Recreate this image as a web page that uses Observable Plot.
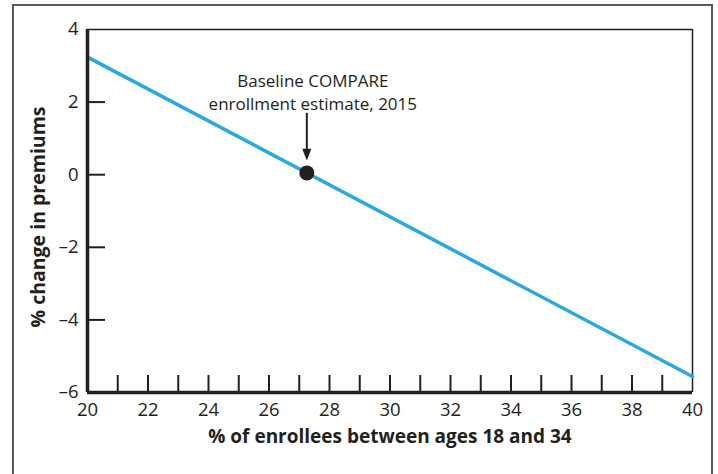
<!DOCTYPE html>
<html><head><meta charset="utf-8">
<script src="https://cdn.jsdelivr.net/npm/d3@7"></script>
<script src="https://cdn.jsdelivr.net/npm/@observablehq/plot@0.6"></script>
<style>
body{margin:0;background:#fff;}
#wrap{position:relative;width:718px;height:474px;overflow:hidden;}
#frame{position:absolute;left:12px;top:4px;width:701px;height:520px;border:2px solid #5a5a5a;box-sizing:border-box;pointer-events:none;}
#chart{position:absolute;left:0;top:0;}
</style></head><body>
<div id="wrap"><div id="frame"></div><div id="chart"></div></div>
<script>
// Data
const lineX = [20, 40];
const lineY = [3.24, -5.56];
const xTickLabels = [20, 22, 24, 26, 28, 30, 32, 34, 36, 38, 40];
const xInnerTicks = [21, 22, 23, 24, 25, 26, 27, 28, 29, 30, 31, 32, 33, 34, 35, 36, 37, 38, 39];
const yTickLabels = [4, 2, 0, -2, -4, -6];
const yInnerTicks = [2, 0, -2, -4];
const baselineX = [27.25];
const baselineY = [0.05];
const annotationText = ["Baseline COMPARE\nenrollment estimate, 2015"];
const arrowTop = [1.69];
const arrowTip = [0.39];
const xTitle = ["% of enrollees between ages 18 and 34"];
const yTitle = ["% change in premiums"];

const lineData = lineX.map((x, i) => ({x, y: lineY[i]}));
const ink = "#231f20";
const font = "'Open Sans', Lato, sans-serif";
const W = 718, H = 474, ML = 87, MR = 26, MT = 29, MB = 82;
const fmtY = d => d < 0 ? "\u2013" + (-d) : String(d);

// narrow downward arrowhead with its tip at the anchor point
const headSymbol = {
  draw(context, size) {
    const r = Math.sqrt(size / Math.PI);
    context.moveTo(0, 0);
    context.lineTo(-0.65 * r, -1.7 * r);
    context.lineTo(0.65 * r, -1.7 * r);
    context.closePath();
  }
};

const arrowData = baselineX.map((x, i) => ({x, y1: arrowTop[i], y2: arrowTip[i]}));

const chart = Plot.plot({
  width: W,
  height: H,
  marginLeft: ML,
  marginRight: MR,
  marginTop: MT,
  marginBottom: MB,
  style: {fontFamily: font, fontSize: "18px", color: ink, background: "transparent", overflow: "visible"},
  x: {domain: [20, 40], axis: null},
  y: {domain: [-6, 4], axis: null},
  marks: [
    // x tick labels
    Plot.text(xTickLabels, {x: d => d, frameAnchor: "bottom", lineAnchor: "top", dy: 10,
      fontSize: 18.5, fill: ink}),
    // inward x ticks
    Plot.tickX(xInnerTicks, {x: d => d, insetTop: (H - MT - MB) - 17, strokeWidth: 2, stroke: ink}),
    // y tick labels
    Plot.text(yTickLabels, {y: d => d, text: fmtY, frameAnchor: "left", textAnchor: "end", dx: -9,
      fontSize: 18.5, fill: ink}),
    // inward y ticks
    Plot.tickY(yInnerTicks, {y: d => d, insetRight: (W - ML - MR) - 18, strokeWidth: 2, stroke: ink}),
    Plot.ruleY([4], {strokeWidth: 1.5, stroke: ink}),
    Plot.ruleX([40], {strokeWidth: 1.5, stroke: ink}),
    Plot.line(lineData, {x: "x", y: "y", stroke: "#29a9e0", strokeWidth: 3.5}),
    Plot.ruleX([20], {strokeWidth: 3.5, stroke: ink}),
    Plot.ruleY([-6], {strokeWidth: 3.5, stroke: ink}),
    // annotation arrow
    Plot.ruleX(arrowData, {x: "x", y1: "y1", y2: "y2", stroke: ink, strokeWidth: 2, insetBottom: 6}),
    Plot.dot(arrowData, {x: "x", y: "y2", symbol: headSymbol, r: 7, fill: ink, stroke: null}),
    Plot.dot(baselineX.map((x, i) => ({x, y: baselineY[i]})), {x: "x", y: "y", r: 7.5, fill: ink}),
    Plot.text(annotationText, {x: () => baselineX[0], y: () => arrowTop[0], lineAnchor: "bottom", dy: -3, dx: 6,
      fontSize: 17, lineHeight: 1.38, fill: ink}),
    Plot.text(xTitle, {frameAnchor: "bottom", dy: 50, fontWeight: "bold", fontSize: 19, fill: ink}),
    Plot.text(yTitle, {frameAnchor: "left", textAnchor: "middle", rotate: -90, dx: -49, dy: 6,
      fontWeight: "bold", fontSize: 19.5, fill: ink})
  ]
});
document.getElementById("chart").appendChild(chart);
</script>
</body></html>
